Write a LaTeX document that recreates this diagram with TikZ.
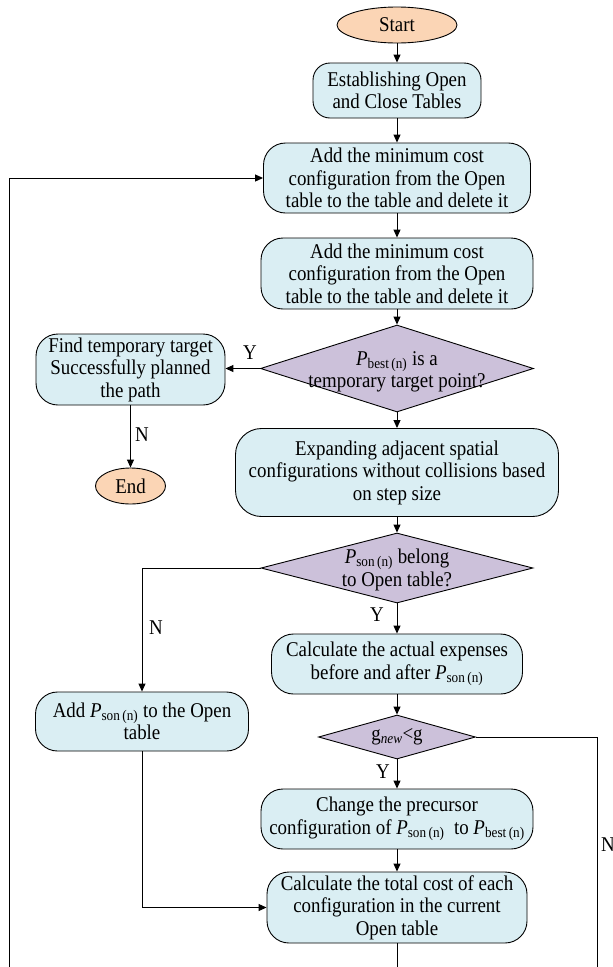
\documentclass[tikz,border=0pt]{standalone}
\usepackage{fontspec}
\setmainfont{Liberation Serif}[FakeStretch=0.9]
\usetikzlibrary{shapes.geometric,arrows.meta}
\definecolor{boxblue}{HTML}{DAEEF3}
\definecolor{dpurple}{HTML}{CCC1DA}
\definecolor{peach}{HTML}{FBD5B5}
\newcommand\Pbest{\textit{P}\textsubscript{best\,(n)}}
\newcommand\Pson{\textit{P}\textsubscript{son\,(n)}}
\begin{document}
\begin{tikzpicture}[x=1pt,y=-1pt, font=\fontsize{21}{22.5}\selectfont,
  proc/.style={draw=black, line width=0.9pt, fill=boxblue, rounded corners=22pt, align=center, inner sep=0pt},
  term/.style={ellipse, draw=black, fill=peach, line width=0.9pt, inner sep=0pt},
  dec/.style={diamond, draw=black, fill=dpurple, line width=0.9pt, inner sep=0pt},
  conn/.style={line width=1pt, -{Triangle[length=8pt,width=7pt]}},
  plain/.style={line width=1pt},
  lbl/.style={inner sep=0pt}]
\useasboundingbox (0,0) rectangle (613,967);

\node[term, minimum width=120pt, minimum height=36pt] (start) at (397,25) {Start};
\node[proc, minimum width=168pt, minimum height=55pt, rounded corners=17pt] (est) at (397,90.5) {Establishing Open\\and Close Tables};
\node[proc, minimum width=267pt, minimum height=70pt] (add1) at (397,178) {Add the minimum cost\\configuration from the Open\\table to the table and delete it};
\node[proc, minimum width=272pt, minimum height=71pt] (add2) at (397,273.5) {Add the minimum cost\\configuration from the Open\\table to the table and delete it};
\node[dec, minimum width=273pt, minimum height=87pt] (d1) at (397,368.5) {};
\node[align=center, inner sep=0pt] (d1t) at (397,372) {\Pbest{} is a\\temporary target point?};
\node[proc, minimum width=189pt, minimum height=71pt] (find) at (130.5,369.5) {Find temporary target\\Successfully planned\\the path};
\node[term, minimum width=70pt, minimum height=36pt] (end) at (130.5,486) {End};
\node[proc, minimum width=323pt, minimum height=88pt, rounded corners=26pt] (exp) at (397,472.5) {Expanding adjacent spatial\\configurations without collisions based\\on step size};
\node[dec, minimum width=272pt, minimum height=70pt] (d2) at (397,568) {};
\node[align=center, inner sep=0pt] (d2t) at (397,570) {\Pson{} belong\\to Open table?};
\node[proc, minimum width=251pt, minimum height=60pt] (calc1) at (397,664) {Calculate the actual expenses\\before and after \Pson};
\node[proc, minimum width=213pt, minimum height=59pt] (addp) at (142,721.5) {Add \Pson{} to the Open\\table};
\node[dec, minimum width=157pt, minimum height=44pt] (d3) at (397,737) {};
\node[inner sep=0pt] (d3t) at (397,737) {g\textsubscript{\textit{new}}<g};
\node[proc, minimum width=272pt, minimum height=60pt] (change) at (397,819) {Change the precursor\\configuration of \Pson{}\ \ to \Pbest};
\node[proc, minimum width=260pt, minimum height=71pt] (total) at (397,907.5) {Calculate the total cost of each\\configuration in the current\\Open table};

\coordinate (rbot) at (597,967);
\coordinate (tbot) at (397,967);
\coordinate (lbot) at (9,967);

\draw[conn] (start) -- (est);
\draw[conn] (est) -- (add1);
\draw[conn] (add1) -- (add2);
\draw[conn] (add2) -- (d1);
\draw[conn] (d1.west) -- (find.east |- d1.west);
\draw[conn] (find) -- (end);
\draw[conn] (d1) -- (exp);
\draw[conn] (exp) -- (d2);
\draw[conn] (d2.west) -| (addp.north);
\draw[conn] (d2) -- (calc1);
\draw[conn] (calc1) -- (d3);
\draw[conn] (d3) -- (change);
\draw[plain] (d3.east) -| (rbot);
\draw[conn] (change) -- (total);
\draw[conn] (addp.south) |- (total.west);
\draw[plain] (total.south) -- (tbot);
\draw[conn] (lbot) |- (add1.west);

\node[lbl] at (250,353) {Y};
\node[lbl] at (142,435) {N};
\node[lbl] at (156,628) {N};
\node[lbl] at (377,615) {Y};
\node[lbl] at (383,772) {Y};
\node[lbl, anchor=west] at (601,845) {N};
\end{tikzpicture}
\end{document}
